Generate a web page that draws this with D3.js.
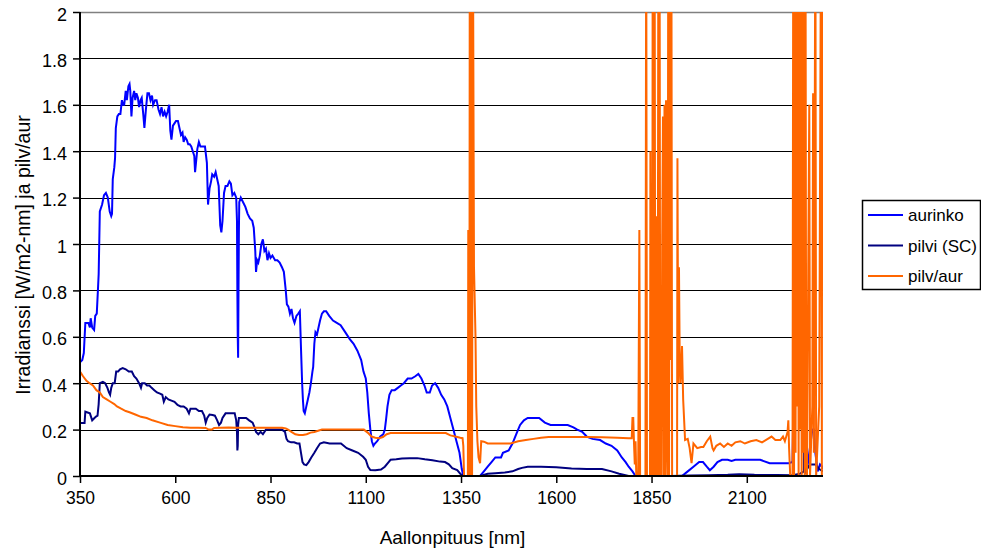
<!DOCTYPE html>
<html><head><meta charset="utf-8">
<script src="https://cdn.jsdelivr.net/npm/d3@7"></script>
<style>
html,body{margin:0;padding:0;background:#fff;}
svg{display:block;font-family:"Liberation Sans",Arial,sans-serif;}
</style></head>
<body>
<svg id="chart" width="981" height="550"></svg>
<script>
// ---- data ----
const seriesNames = ["aurinko", "pilvi (SC)", "pilv/aur"];
const xTicks = [350, 600, 850, 1100, 1350, 1600, 1850, 2100];
const yTicks = [0, 0.2, 0.4, 0.6, 0.8, 1, 1.2, 1.4, 1.6, 1.8, 2];
const xLabel = "Aallonpituus [nm]";
const yLabel = "Irradianssi [W/m2-nm] ja pilv/aur";

const aurinkoNm = [350,356,360,364,372,376,378,382,387,390,394,397,399,402,408,413,418,423,428,432,434,436,440,442,444,448,452,456,460,463,466,470,473,477,480,482,485,488,492,495,498,502,505,509,512,516,519,523,527,531,535,539,542,547,551,556,560,564,568,572,576,580,584,587,590,594,598,602,607,611,615,619,622,626,630,634,638,642,646,650,652,655,658,662,666,672,678,683,686,690,694,697,702,706,710,714,718,721,724,728,732,737,742,746,750,755,760,762,763,764,765,766,767,768,772,778,784,790,796,802,806,810,812,815,818,822,826,830,834,838,842,846,850,855,862,868,874,880,885,890,893,897,901,905,909,913,918,923,927,930,933,935,937,940,944,948,952,956,960,962,965,968,972,976,980,985,990,996,1004,1014,1024,1034,1046,1058,1068,1078,1088,1094,1100,1104,1108,1112,1116,1120,1124,1130,1138,1146,1150,1153,1157,1162,1168,1176,1184,1192,1200,1210,1220,1230,1238,1246,1254,1260,1268,1274,1282,1290,1298,1306,1314,1322,1330,1338,1346,1352,1356,1400,1410,1420,1430,1440,1455,1460,1475,1485,1495,1505,1515,1525,1540,1555,1570,1585,1600,1615,1630,1645,1655,1668,1680,1695,1715,1730,1745,1760,1772,1782,1790,1800,1808,1930,1945,1960,1975,1985,1995,2003,2013,2023,2035,2050,2060,2070,2085,2110,2135,2160,2190,2210,2220,2224,2226,2230,2233,2236,2240,2244,2248,2254,2260,2268,2272,2276,2280,2286,2292,2298,2300];
const aurinkoVal = [0.49,0.50,0.53,0.66,0.66,0.64,0.68,0.64,0.63,0.69,0.70,0.80,0.87,1.14,1.17,1.21,1.22,1.20,1.14,1.12,1.13,1.28,1.33,1.37,1.50,1.55,1.56,1.56,1.62,1.60,1.60,1.66,1.62,1.68,1.69,1.66,1.55,1.63,1.66,1.62,1.65,1.63,1.59,1.62,1.63,1.56,1.50,1.58,1.65,1.65,1.62,1.64,1.60,1.62,1.62,1.58,1.56,1.59,1.55,1.57,1.55,1.57,1.60,1.49,1.45,1.51,1.52,1.53,1.53,1.50,1.47,1.48,1.44,1.46,1.45,1.43,1.43,1.42,1.40,1.38,1.31,1.36,1.41,1.44,1.42,1.42,1.42,1.35,1.17,1.24,1.27,1.30,1.29,1.31,1.28,1.25,1.08,1.05,1.10,1.22,1.25,1.25,1.27,1.26,1.21,1.22,1.20,1.10,0.80,0.60,0.51,0.80,1.05,1.18,1.20,1.18,1.16,1.13,1.11,1.10,1.07,0.97,0.88,0.93,0.92,0.95,1.00,1.02,0.97,0.98,0.93,0.96,0.94,0.95,0.93,0.93,0.92,0.90,0.88,0.80,0.74,0.73,0.70,0.72,0.68,0.66,0.69,0.70,0.71,0.55,0.40,0.33,0.28,0.27,0.30,0.33,0.36,0.40,0.45,0.47,0.57,0.62,0.61,0.64,0.67,0.70,0.71,0.71,0.69,0.67,0.66,0.65,0.62,0.59,0.57,0.54,0.50,0.45,0.42,0.36,0.27,0.20,0.15,0.13,0.14,0.15,0.17,0.18,0.20,0.24,0.30,0.35,0.37,0.37,0.38,0.39,0.40,0.42,0.42,0.43,0.44,0.42,0.39,0.36,0.36,0.39,0.40,0.38,0.35,0.33,0.30,0.25,0.20,0.15,0.10,0.03,0.0,0.0,0.02,0.04,0.06,0.08,0.08,0.10,0.11,0.14,0.18,0.22,0.24,0.25,0.25,0.25,0.23,0.22,0.22,0.22,0.22,0.21,0.20,0.19,0.17,0.16,0.155,0.14,0.13,0.11,0.08,0.06,0.04,0.02,0.0,0.0,0.02,0.04,0.06,0.06,0.04,0.025,0.04,0.06,0.07,0.07,0.065,0.07,0.07,0.07,0.07,0.055,0.055,0.055,0.06,0.5,2.4,1.2,2.4,0.8,2.4,0.5,0.3,0.1,0.05,0.15,0.2,0.2,0.1,0.02,0.05,0.04,0.03];

const pilviNm = [350,362,364,376,382,388,392,396,399,402,410,416,422,426,429,432,436,441,445,450,455,462,470,478,486,492,498,505,510,513,520,526,532,538,545,552,560,566,570,575,582,590,598,606,614,622,630,636,640,646,654,662,670,676,680,684,690,698,704,710,715,720,724,732,740,748,756,760,762,763,764,765,767,775,786,794,803,808,812,818,824,830,838,846,856,868,880,888,892,896,904,912,920,926,930,934,938,944,950,957,965,972,980,990,1005,1020,1035,1050,1065,1080,1093,1100,1106,1112,1125,1140,1150,1160,1165,1180,1195,1215,1235,1255,1275,1295,1308,1318,1327,1340,1348,1356,1400,1420,1440,1465,1485,1500,1510,1525,1560,1600,1640,1680,1720,1745,1765,1790,1900,1950,2000,2050,2080,2120,2180,2220,2240,2250,2253,2255,2265,2280,2290,2300];
const pilviVal = [0.228,0.228,0.277,0.27,0.24,0.25,0.256,0.26,0.31,0.40,0.406,0.40,0.38,0.36,0.35,0.38,0.40,0.40,0.45,0.45,0.46,0.465,0.46,0.45,0.45,0.43,0.42,0.40,0.38,0.40,0.40,0.39,0.39,0.38,0.37,0.36,0.355,0.35,0.32,0.34,0.33,0.325,0.32,0.306,0.30,0.30,0.29,0.27,0.29,0.29,0.29,0.28,0.28,0.26,0.23,0.25,0.265,0.263,0.26,0.24,0.22,0.23,0.25,0.27,0.27,0.27,0.27,0.24,0.19,0.11,0.13,0.22,0.25,0.25,0.25,0.24,0.23,0.21,0.19,0.18,0.19,0.18,0.20,0.20,0.20,0.20,0.20,0.19,0.16,0.15,0.145,0.145,0.14,0.14,0.10,0.06,0.05,0.047,0.06,0.08,0.10,0.12,0.14,0.145,0.14,0.14,0.14,0.12,0.11,0.10,0.083,0.07,0.04,0.026,0.025,0.028,0.04,0.06,0.07,0.072,0.075,0.077,0.077,0.072,0.068,0.062,0.06,0.05,0.034,0.025,0.01,0.0,0.0,0.01,0.012,0.015,0.02,0.03,0.035,0.04,0.04,0.038,0.032,0.03,0.03,0.02,0.01,0.0,0.0,0.002,0.003,0.005,0.008,0.005,0.004,0.003,0.01,0.02,0.73,0.02,0.05,0.05,0.03,0.02];

const suhdeNm = [350,358,367,375,384,393,402,410,420,430,440,447,458,470,480,495,510,525,540,560,580,600,620,640,660,680,688,696,702,720,740,760,780,800,820,840,860,880,890,896,905,915,925,935,945,955,965,975,985,1000,1020,1040,1060,1080,1095,1105,1115,1125,1135,1145,1155,1165,1200,1240,1280,1310,1322,1335,1348,1354,1356,1358,1368,1369,1370,1372,1373,1375,1377,1379,1381,1384,1388,1390,1393,1396,1400,1403,1410,1420,1440,1460,1480,1500,1520,1540,1560,1580,1600,1640,1680,1720,1760,1790,1798,1800,1802,1804,1806,1808,1810,1815,1818,1820,1834,1836,1838,1846,1847,1849,1852,1853,1855,1856,1857,1858,1860,1862,1864,1866,1868,1869,1871,1873,1876,1878,1880,1882,1884,1886,1888,1890,1892,1894,1896,1898,1900,1902,1904,1910,1917,1918,1920,1922,1924,1926,1930,1933,1938,1945,1950,1955,1960,1970,1980,1986,1995,2004,2010,2013,2020,2030,2040,2050,2060,2070,2083,2095,2110,2125,2140,2155,2165,2175,2188,2195,2200,2207,2209,2211,2214,2220,2222,2224,2226,2228,2230,2232,2234,2236,2238,2240,2242,2244,2246,2248,2250,2252,2254,2256,2258,2264,2266,2272,2274,2276,2280,2282,2290,2295,2297,2298,2300];
const suhdeVal = [0.45,0.43,0.41,0.40,0.39,0.37,0.36,0.34,0.33,0.32,0.31,0.30,0.29,0.28,0.275,0.265,0.255,0.25,0.24,0.23,0.22,0.215,0.21,0.208,0.208,0.207,0.20,0.20,0.207,0.208,0.209,0.208,0.208,0.208,0.208,0.208,0.208,0.208,0.205,0.20,0.19,0.18,0.177,0.177,0.18,0.187,0.19,0.195,0.20,0.20,0.20,0.20,0.20,0.20,0.20,0.187,0.17,0.165,0.163,0.168,0.18,0.185,0.185,0.185,0.185,0.185,0.175,0.17,0.165,0.163,0.13,0.0,0.0,1.06,0.0,0.0,2.5,0.0,2.5,0.0,2.5,0.9,0.6,0.3,0.15,0.08,0.055,0.15,0.148,0.14,0.14,0.14,0.14,0.15,0.155,0.16,0.165,0.168,0.168,0.168,0.168,0.167,0.165,0.163,0.163,0.25,0.25,0.14,0.05,0.15,0.0,0.0,1.06,0.0,0.0,2.5,0.0,0.0,1.4,0.0,0.0,2.5,0.0,2.5,0.3,2.5,0.0,1.12,0.0,0.0,2.5,0.0,2.5,0.0,0.0,1.0,1.55,0.0,1.6,0.0,1.62,0.2,0.0,2.5,0.0,2.5,0.5,2.5,0.0,0.0,0.0,1.37,0.4,0.9,0.5,0.4,0.56,0.33,0.155,0.16,0.12,0.055,0.14,0.12,0.125,0.125,0.15,0.17,0.12,0.11,0.13,0.14,0.125,0.14,0.13,0.145,0.15,0.14,0.15,0.155,0.145,0.16,0.17,0.155,0.155,0.17,0.15,0.19,0.24,0.12,0.0,0.0,2.5,0.0,2.5,0.1,2.5,0.3,2.5,0.0,2.5,0.2,2.5,0.0,2.5,0.1,2.5,0.0,2.5,0.1,0.0,1.6,0.0,0.3,1.65,0.1,2.5,0.0,0.3,2.5,0.0,2.5,1.33];

const colors = ["#0000FF", "#000080", "#FF6600"];

// ---- chart ----
const svg = d3.select("#chart");
const x = d3.scaleLinear().domain([350, 2300]).range([80, 823]);
const y = d3.scaleLinear().domain([0, 2]).range([476, 12]);

svg.append("defs").append("clipPath").attr("id", "plotclip")
  .append("rect").attr("x", 80).attr("y", 12).attr("width", 743).attr("height", 464);

// gridlines
svg.append("g").selectAll("line").data(yTicks.filter(v => v > 0)).join("line")
  .attr("x1", 80).attr("x2", 823)
  .attr("y1", d => Math.round(y(d)) + 0.5).attr("y2", d => Math.round(y(d)) + 0.5)
  .attr("stroke", d => d === 2 ? "#808080" : "#000")
  .attr("stroke-width", d => d === 2 ? 1.5 : 1);

// series
const series = [
  {nm: aurinkoNm, val: aurinkoVal},
  {nm: pilviNm, val: pilviVal},
  {nm: suhdeNm, val: suhdeVal}
];
const line = d3.line().x(d => x(d[0])).y(d => y(d[1]));
const gL = svg.append("g").attr("clip-path", "url(#plotclip)");
series.forEach((s, i) => {
  const pts = s.nm.map((n, k) => [n, s.val[k]]);
  gL.append("path").datum(pts).attr("d", line)
    .attr("fill", "none").attr("stroke", colors[i]).attr("stroke-width", 2)
    .attr("stroke-linejoin", "miter");
});

// axes
const fmt = d => String(+d.toFixed(1));
const ax = svg.append("g").attr("transform", "translate(80,0)")
  .call(d3.axisLeft(y).tickValues(yTicks).tickFormat(fmt).tickSize(7).tickPadding(6));
const bx = svg.append("g").attr("transform", "translate(0,476)")
  .call(d3.axisBottom(x).tickValues(xTicks).tickFormat(d3.format("d")).tickSize(7).tickPadding(9));
[ax, bx].forEach(g => {
  g.select(".domain").remove();
  g.selectAll(".tick line").attr("stroke", "#000").attr("stroke-width", 1.5);
  g.selectAll("text").attr("fill", "#000")
    .attr("font-family", "'Liberation Sans', Arial, sans-serif");
});
ax.selectAll("text").attr("font-size", 18).attr("dy", "0.45em");
bx.selectAll("text").attr("font-size", 17.5);
svg.append("line").attr("x1", 80).attr("x2", 80).attr("y1", 12).attr("y2", 476)
  .attr("stroke", "#000").attr("stroke-width", 2);
svg.append("line").attr("x1", 79).attr("x2", 823).attr("y1", 476).attr("y2", 476)
  .attr("stroke", "#000").attr("stroke-width", 2);

// axis titles
svg.append("text").attr("x", 452.5).attr("y", 544).attr("text-anchor", "middle")
  .attr("font-size", 19).text(xLabel);
svg.append("text").attr("transform", "translate(30,255) rotate(-90)")
  .attr("text-anchor", "middle").attr("font-size", 19.5).text(yLabel);

// legend
const lg = svg.append("g");
lg.append("rect").attr("x", 862.5).attr("y", 200.5).attr("width", 118).attr("height", 89)
  .attr("fill", "#fff").attr("stroke", "#000").attr("stroke-width", 1.5);
const rowsY = [215, 245.5, 276];
seriesNames.forEach((nm, i) => {
  lg.append("line").attr("x1", 868).attr("x2", 903).attr("y1", rowsY[i]).attr("y2", rowsY[i])
    .attr("stroke", colors[i]).attr("stroke-width", 2);
  lg.append("text").attr("x", 908).attr("y", rowsY[i] + 6).attr("font-size", 17).text(nm);
});
</script>
</body></html>
